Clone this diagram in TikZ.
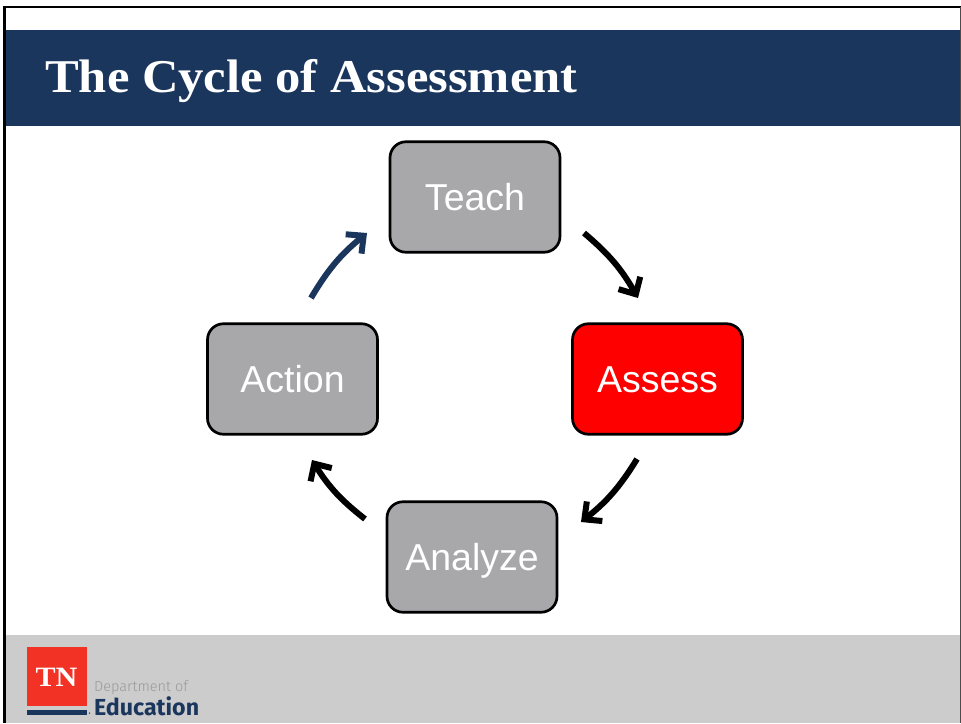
\documentclass[tikz,border=0pt]{standalone}
\usepackage{fontspec}
\setmainfont{Liberation Sans}
\newfontfamily\titlefont[FakeStretch=1.076]{Liberation Serif}
\newfontfamily\logofont{Fira Sans}
\newfontfamily\logolight{Fira Sans Light}
\usetikzlibrary{arrows.meta}
\definecolor{navy}{RGB}{27,54,93}
\definecolor{boxgray}{RGB}{168,168,170}
\definecolor{footgray}{RGB}{204,204,204}
\definecolor{tnred}{RGB}{243,50,38}

\begin{document}
\begin{tikzpicture}[
x=1pt, y=-1pt,
stage/.style={rectangle, rounded corners=16pt, draw=black, line width=2.7pt, fill=boxgray, text=white, minimum width=170pt, minimum height=110.5pt, inner sep=0pt, text height=26pt, text depth=0pt, font=\fontsize{37.5}{37.5}\selectfont},
cyclearrow/.style={-{Straight Barb[length=13pt,width=25pt,line width=6pt]}, line width=6pt, black},
]
\useasboundingbox (0,0) rectangle (961,723);

%Page
\fill[white] (0,0) rectangle (961,723);
\fill[footgray] (5,635) rectangle (961,723);
\fill[navy] (5,30) rectangle (961,125.5);
\draw[black, line width=2.6pt] (4.3,723) -- (4.3,6.8) -- (961,6.8);
\draw[black!70, line width=1pt] (960.5,7) -- (960.5,723);

%Title
\node[anchor=base west, inner sep=0pt, text=white] (title) at (45,92) {\titlefont\bfseries\fontsize{47}{47}\selectfont The Cycle of Assessment};

%Stages
\node[stage] (teach) at (475,197) {Teach};
\node[stage, fill=red] (assess) at (657.5,379) {Assess};
\node[stage] (analyze) at (472,557) {Analyze};
\node[stage] (action) at (292.5,379) {Action};

%Arrow ends
\coordinate (teachout) at (584,233);
\coordinate (assessin) at (638,298);
\coordinate (assessout) at (637,459);
\coordinate (analyzein) at (581,522);
\coordinate (analyzeout) at (365,519);
\coordinate (actionin) at (312,460);
\coordinate (actionout) at (311,298);
\coordinate (teachin) at (367,233);

%Connections
\draw[cyclearrow] (teachout) to[bend left=10] (assessin);
\draw[cyclearrow] (assessout) to[bend left=10] (analyzein);
\draw[cyclearrow] (analyzeout) to[bend left=10] (actionin);
\draw[cyclearrow, navy] (actionout) to[bend left=10] (teachin);

%Logo
\node[rectangle, fill=tnred, minimum width=60pt, minimum height=59pt, inner sep=0pt, anchor=north west] (tnbox) at (27,647) {};
\node[text=white, inner sep=0pt] (tn) at (56.5,677) {\titlefont\bfseries\fontsize{28}{28}\selectfont TN};
\node[rectangle, fill=navy, minimum width=60pt, minimum height=4.5pt, inner sep=0pt, anchor=north west] (tnbar) at (27,710) {};
\node[circle, fill=navy, minimum size=1.5pt, inner sep=0pt] (tndot) at (89.5,713) {};
\node[anchor=base west, inner sep=0pt, text=black!40] (dept) at (94,691) {\logolight\fontsize{14.5}{14.5}\selectfont Department of};
\node[anchor=base west, inner sep=0pt, text=navy] (edu) at (94,715) {\logofont\bfseries\fontsize{23.2}{23.2}\selectfont Education};
\end{tikzpicture}
\end{document}
